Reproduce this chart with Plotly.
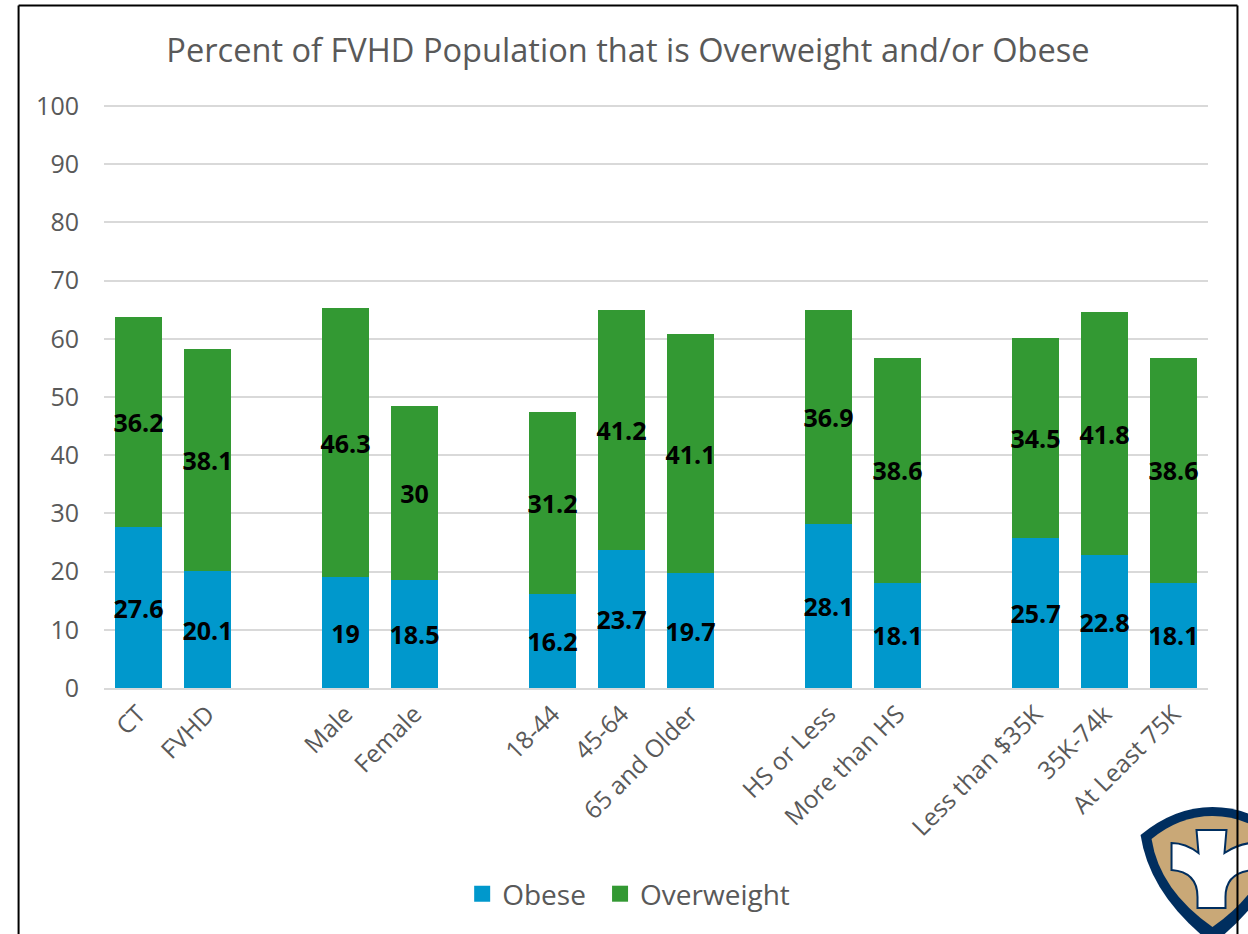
import plotly.graph_objects as go

categories = ["CT", "FVHD", " ", "Male", "Female", "  ", "18-44", "45-64", "65 and Older", "   ",
              "HS or Less", "More than HS", "    ", "Less than $35K", "35K-74k", "At Least 75K"]
obese = [27.6, 20.1, None, 19, 18.5, None, 16.2, 23.7, 19.7, None, 28.1, 18.1, None, 25.7, 22.8, 18.1]
overweight = [36.2, 38.1, None, 46.3, 30, None, 31.2, 41.2, 41.1, None, 36.9, 38.6, None, 34.5, 41.8, 38.6]
title = "Percent of FVHD Population that is Overweight and/or Obese"

BLUE = "#0098CC"
GREEN = "#339933"
GRAY = "#595959"
FONT = "Open Sans"
W, H = 1248, 934
L, R, T, B = 103.5, 1208.5, 104, 688
Y_TOP = 100 + 2 / 5.82

fig = go.Figure()
for name, vals, col, leg in [("Obese", obese, BLUE, "legend"), ("Overweight", overweight, GREEN, "legend2")]:
    fig.add_bar(x=categories, y=vals, name=name, marker=dict(color=col, line_width=0), width=0.67,
                text=vals, textposition="inside", insidetextanchor="middle", textangle=0,
                constraintext="none", cliponaxis=False,
                textfont=dict(family=FONT, size=25, color="black", weight="bold"),
                showlegend=False, hoverinfo="skip")
    fig.add_scatter(x=[None], y=[None], mode="markers", name=name, legend=leg,
                    marker=dict(symbol="square", size=18, color=col), showlegend=True)

def px(x): return (x - L) / (R - L)
def py(y): return (B - y) / (B - T)
def path(s):
    out = []
    for tok in s.split():
        if "," in tok:
            a, b = tok.split(",")
            out.append(f"{px(float(a)):.5f},{py(float(b)):.5f}")
        else:
            out.append(tok)
    return " ".join(out)

NAVY = "#002E5F"
TAN = "#C9A877"
shield = "M 1141,835 Q 1175,807 1213,807 Q 1251,807 1285,835 Q 1276,895 1213,944 Q 1150,895 1141,835 Z"
tan = "M 1152,839 Q 1180,816 1213,816 Q 1246,816 1274,839 Q 1266,890 1213,927 Q 1160,890 1152,839 Z"
cross = ("M 1197,830 L 1227,830 L 1225,853 Q 1240,843 1254,843 L 1254,870 "
         "Q 1226,872 1226,897 L 1226,908 L 1198,908 L 1198,897 Q 1198,872 1172,870 "
         "L 1172,843 Q 1186,843 1199,853 Z")
shapes = [
    dict(type="path", xref="paper", yref="paper", path=path(shield), fillcolor=NAVY, line_width=0),
    dict(type="path", xref="paper", yref="paper", path=path(tan), fillcolor=TAN, line_width=0),
    dict(type="path", xref="paper", yref="paper", path=path(cross), fillcolor="white", line=dict(color=NAVY, width=2)),
    dict(type="line", xref="paper", yref="paper", x0=px(18), x1=px(1238), y0=py(5.5), y1=py(5.5), line=dict(color="black", width=2)),
    dict(type="line", xref="paper", yref="paper", x0=px(18), x1=px(18), y0=py(5.5), y1=py(940), line=dict(color="black", width=2)),
    dict(type="line", xref="paper", yref="paper", x0=px(1238), x1=px(1238), y0=py(5.5), y1=py(940), line=dict(color="black", width=2)),
]

leg_common = dict(xanchor="left", y=py(894), yanchor="middle", font=dict(size=28, color=GRAY),
                  itemsizing="trace", bgcolor="rgba(0,0,0,0)")
fig.update_layout(
    width=W, height=H, barmode="stack", plot_bgcolor="white", paper_bgcolor="white",
    margin=dict(l=L, r=W - R, t=T, b=H - B, autoexpand=False),
    font=dict(family=FONT, color=GRAY),
    title=dict(text=title, x=628 / W, xanchor="center", xref="container", y=1 - 51 / H, yref="container",
               yanchor="middle", font=dict(family=FONT, size=32.6, color=GRAY)),
    xaxis=dict(type="category", categoryorder="array", categoryarray=categories, tickmode="array",
               tickvals=categories, ticktext=categories, tickangle=-45, tickfont=dict(size=24.5, color=GRAY),
               showgrid=False, ticks="", showline=True, linecolor="#D9D9D9", linewidth=2),
    yaxis=dict(range=[0, Y_TOP], tickmode="linear", dtick=10, tickfont=dict(size=25, color=GRAY),
               gridcolor="#D9D9D9", gridwidth=1.5, zeroline=False, ticks="", ticklabelstandoff=24),
    legend=dict(x=px(462), **leg_common),
    legend2=dict(x=px(600), **leg_common),
    shapes=shapes,
)
fig.write_html("out.html", config={"displayModeBar": False},
               post_script="document.body.style.margin='0';document.body.style.overflow='hidden';")
